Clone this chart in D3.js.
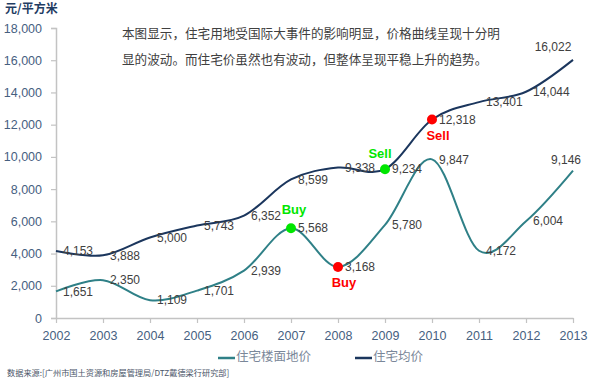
<!DOCTYPE html>
<html>
<head>
<meta charset="utf-8">
<script src="https://cdn.jsdelivr.net/npm/d3@7"></script>
<style>
  body { margin: 0; background: #fff; }
  svg { display: block; }
  .cjk { font-family: 'Noto Sans CJK SC', sans-serif; }
  .num { font-family: 'Liberation Sans', Arial, sans-serif; }
</style>
</head>
<body>
<div id="chart"></div>
<script>
const width = 612
const height = 384
const margin = { left: 56, right: 39, top: 28, bottom: 66 }

const years = ['2002', '2003', '2004', '2005', '2006', '2007', '2008', '2009', '2010', '2011', '2012', '2013']
const landPrice = [1651, 2350, 1109, 1701, 2939, 5568, 3168, 5780, 9847, 4172, 6004, 9146]
const housePrice = [4153, 3888, 5000, 5743, 6352, 8599, 9338, 9234, 12318, 13401, 14044, 16022]
const yTicks = [0, 2000, 4000, 6000, 8000, 10000, 12000, 14000, 16000, 18000]
const seriesNames = ['住宅楼面地价', '住宅均价']
const seriesColors = ['#2f8087', '#1b365d']

// buy / sell markers: [series index, year, text, colour, side]
const signals = [
  [0, '2007', 'Buy', '#00e600', 'above'],
  [0, '2008', 'Buy', '#ff0000', 'below'],
  [1, '2009', 'Sell', '#00e600', 'above'],
  [1, '2010', 'Sell', '#ff0000', 'below'],
]

const note = [
  '本图显示，住宅用地受国际大事件的影响明显，价格曲线呈现十分明',
  '显的波动。而住宅价虽然也有波动，但整体呈现平稳上升的趋势。',
]
const unit = '元/平方米'
const source = '数据来源:[广州市国土资源和房屋管理局/DTZ戴德梁行研究部]'

const series = [landPrice, housePrice].map((values, i) => ({
  name: seriesNames[i],
  color: seriesColors[i],
  values: values.map((v, j) => ({ year: years[j], value: v })),
}))

const x = d3.scalePoint()
  .domain(years)
  .range([margin.left, width - margin.right])
const y = d3.scaleLinear()
  .domain([0, 18000])
  .range([height - margin.bottom, margin.top])

const svg = d3.select('#chart')
  .append('svg')
    .attr('width', width)
    .attr('height', height)

const axisColor = '#c3c3c3'
const labelColor = '#46607f'

// y axis
svg.append('g')
  .attr('transform', `translate(${margin.left},0)`)
  .call(d3.axisLeft(y).tickValues(yTicks).tickSize(5).tickPadding(9).tickFormat(d3.format(',')))
  .call(g => g.select('.domain').attr('stroke', axisColor).attr('stroke-width', 1.5))
  .call(g => g.selectAll('.tick line').attr('stroke', axisColor).attr('stroke-width', 1.2))
  .call(g => g.selectAll('.tick text')
    .attr('class', 'num')
    .attr('fill', labelColor)
    .style('font-size', '12.5px'))

// x axis
svg.append('g')
  .attr('transform', `translate(0,${y(0)})`)
  .call(d3.axisBottom(x).tickSize(5).tickPadding(8).tickSizeOuter(0))
  .call(g => g.select('.domain').attr('stroke', axisColor).attr('stroke-width', 1.5))
  .call(g => g.selectAll('.tick line').attr('stroke', axisColor).attr('stroke-width', 1.2))
  .call(g => g.selectAll('.tick text')
    .attr('class', 'num')
    .attr('fill', labelColor)
    .style('font-size', '12.5px'))

// unit title
svg.append('text')
  .attr('class', 'cjk')
  .attr('x', 5)
  .attr('y', 13)
  .attr('fill', '#1f3d63')
  .style('font-size', '12px')
  .style('font-weight', 'bold')
  .text(unit)

// note text
svg.append('g')
  .selectAll('text')
  .data(note)
  .enter().append('text')
    .attr('class', 'cjk')
    .attr('x', 122)
    .attr('y', (d, i) => 38 + i * 26)
    .attr('fill', '#404040')
    .style('font-size', '12.6px')
    .text(d => d)

// lines
const line = d3.line()
  .x(d => x(d.year))
  .y(d => y(d.value))
  .curve(d3.curveCardinal.tension(0))

svg.append('g')
  .selectAll('path')
  .data(series)
  .enter().append('path')
    .attr('fill', 'none')
    .attr('stroke', d => d.color)
    .attr('stroke-width', 2)
    .attr('d', d => line(d.values))

// value labels
const last = years[years.length - 1]
series.forEach((s, i) => {
  svg.append('g')
    .selectAll('text')
    .data(s.values)
    .enter().append('text')
      .attr('class', 'num')
      .attr('fill', '#404040')
      .style('font-size', '12px')
      .attr('x', d => d.year === last ? x(d.year) - (i === 0 ? 7 : 20) : x(d.year) + 7)
      .attr('y', d => d.year === last ? y(d.value) - (i === 0 ? 10 : 12) : y(d.value) + 1)
      .attr('text-anchor', d => d.year === last ? 'middle' : 'start')
      .attr('dominant-baseline', 'middle')
      .text(d => d3.format(',')(d.value))
})

// buy / sell markers
const marks = signals.map(([si, year, text, color, side]) => ({
  cx: x(year),
  cy: y(series[si].values[years.indexOf(year)].value),
  text, color, side,
}))

svg.append('g')
  .selectAll('circle')
  .data(marks)
  .enter().append('circle')
    .attr('cx', d => d.cx)
    .attr('cy', d => d.cy)
    .attr('r', 5)
    .attr('fill', d => d.color)

svg.append('g')
  .selectAll('text')
  .data(marks)
  .enter().append('text')
    .attr('class', 'num')
    .attr('x', d => d.cx + (d.side === 'above' ? (d.text === 'Buy' ? 3 : -5) : 6))
    .attr('y', d => d.cy + (d.side === 'above' ? (d.text === 'Buy' ? -14 : -11) : 20))
    .attr('text-anchor', 'middle')
    .attr('fill', d => d.color)
    .style('font-size', '13px')
    .style('font-weight', 'bold')
    .text(d => d.text)

// legend
const legend = svg.append('g')
  .selectAll('g')
  .data(series)
  .enter().append('g')
    .attr('transform', (d, i) => `translate(${[218, 355][i]},358)`)
legend.append('line')
  .attr('x1', 0)
  .attr('x2', 17)
  .attr('stroke', d => d.color)
  .attr('stroke-width', 2.5)
legend.append('text')
  .attr('class', 'cjk')
  .attr('x', 18)
  .attr('dominant-baseline', 'middle')
  .attr('fill', '#7a8799')
  .style('font-size', '12.5px')
  .text(d => d.name)

// source
svg.append('text')
  .attr('class', 'cjk')
  .attr('x', 7)
  .attr('y', 376)
  .attr('fill', '#4a5568')
  .style('font-size', '8.2px')
  .text(source)
</script>
</body>
</html>
